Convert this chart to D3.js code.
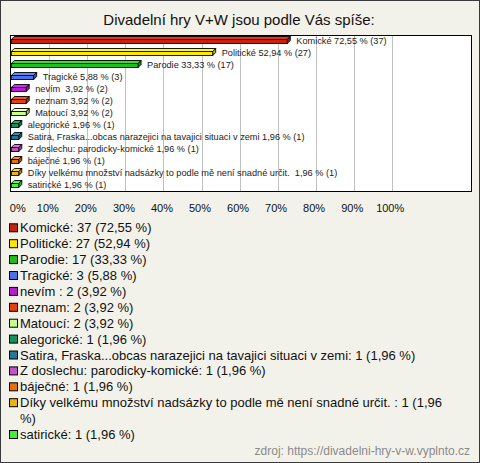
<!DOCTYPE html>
<html>
<head>
<meta charset="utf-8">
<script src="https://cdn.jsdelivr.net/npm/d3@7"></script>
<style>
  html, body { margin: 0; padding: 0; background: #fff; }
  svg { display: block; font-family: "Liberation Sans", Arial, sans-serif; }
</style>
</head>
<body>
<div id="chart-area"></div>
<script>
/***** Data *****/
const title = "Divadelní hry V+W jsou podle Vás spíše:";
const source = "zdroj: https://divadelni-hry-v-w.vyplnto.cz";
const categories = [
  "Komické", "Politické", "Parodie", "Tragické", "nevím ", "neznam", "Matoucí",
  "alegorické", "Satira, Fraska...obcas narazejici na tavajici situaci v zemi",
  "Z doslechu: parodicky-komické", "báječné",
  "Díky velkému množství nadsázky to podle mě není snadné určit. ", "satirické"
];
const counts   = [37, 27, 17, 3, 2, 2, 2, 1, 1, 1, 1, 1, 1];
const percents = [72.55, 52.94, 33.33, 5.88, 3.92, 3.92, 3.92, 1.96, 1.96, 1.96, 1.96, 1.96, 1.96];
const colors   = ["#c4240c", "#ffe800", "#1ebe1e", "#4a72e8", "#b41ccc", "#e2400e", "#c8ff8c",
                  "#16905c", "#1e7896", "#c454c4", "#e4700e", "#e8b412", "#44ee3c"];
const xTicks   = [0, 10, 20, 30, 40, 50, 60, 70, 80, 90, 100];

const data = categories.map((c, i) => ({ name: c, count: counts[i], pct: percents[i], color: colors[i] }));
const fmtPct = v => d3.format(".2f")(v).replace(".", ",");

/***** Layout *****/
const W = 480, H = 463;
const plot = { left: 10, right: 471, top: 35, bottom: 191 };
const depth = 3;

const svg = d3.select("#chart-area").append("svg")
  .attr("width", W).attr("height", H);

svg.append("rect")
  .attr("x", 0.5).attr("y", 0.5).attr("width", W - 1).attr("height", H - 1)
  .attr("fill", "#f3f2ea").attr("stroke", "#3a3a3a");

svg.append("text")
  .attr("x", 239).attr("y", 25).attr("text-anchor", "middle")
  .attr("font-size", 15).attr("fill", "#111").text(title);

svg.append("rect")
  .attr("x", plot.left + 0.5).attr("y", plot.top + 0.5)
  .attr("width", plot.right - plot.left).attr("height", plot.bottom - plot.top)
  .attr("fill", "#fff").attr("stroke", "#000");

/***** Scales *****/
const x = d3.scaleLinear().domain([0, 100]).range([11.3, 391.7]);
const y = d3.scaleBand().domain(categories).range([plot.top, plot.bottom]);

// grid
svg.append("g").selectAll("line")
  .data(xTicks.filter(t => t > 0))
  .join("line")
    .attr("x1", d => Math.round(x(d)) + 0.5).attr("x2", d => Math.round(x(d)) + 0.5)
    .attr("y1", plot.top + 1).attr("y2", plot.bottom)
    .attr("stroke", "#c0c0c0");

// axis labels
const gx = svg.append("g")
  .attr("transform", `translate(0,${plot.bottom})`)
  .call(d3.axisBottom(x).tickValues(xTicks).tickSize(0).tickPadding(13).tickFormat(d => d + "%"));
gx.select(".domain").remove();
gx.selectAll("text")
  .attr("font-family", "Liberation Sans, Arial, sans-serif")
  .attr("font-size", 11).attr("fill", "#111")
  .attr("dx", d => d === 0 ? 6 : -2);

/***** Bars (pseudo 3D) *****/
const bars = svg.append("g").selectAll("g").data(data).join("g");
const cy = d => y(d.name) + y.bandwidth() / 2;

bars.append("path") // top face
  .attr("d", d => {
    const x0 = x(0), x1 = x(d.pct), t = cy(d) - 1.5;
    return `M${x0},${t}L${x0 + depth},${t - depth}L${x1 + depth},${t - depth}L${x1},${t}Z`;
  })
  .attr("fill", d => d3.color(d.color).brighter(0.6)).attr("stroke", "#000").attr("stroke-width", 0.9);

bars.append("path") // side face
  .attr("d", d => {
    const x1 = x(d.pct), t = cy(d) - 1.5;
    return `M${x1},${t}L${x1 + depth},${t - depth}L${x1 + depth},${t - depth + 4}L${x1},${t + 4}Z`;
  })
  .attr("fill", d => d3.color(d.color).darker(0.7)).attr("stroke", "#000").attr("stroke-width", 0.9);

bars.append("rect") // front face
  .attr("x", x(0)).attr("y", d => cy(d) - 1.5)
  .attr("width", d => x(d.pct) - x(0)).attr("height", 4)
  .attr("fill", d => d.color).attr("stroke", "#000").attr("stroke-width", 0.9);

bars.append("text")
  .attr("x", d => x(d.pct) + 9).attr("y", d => cy(d) + 3)
  .attr("font-size", 9.2).attr("fill", "#222")
  .attr("xml:space", "preserve")
  .text(d => `${d.name} ${fmtPct(d.pct)} % (${d.count})`);

/***** Legend *****/
const lineH = 15.9, maxRight = 455;
let ly = 223.3;
const legend = svg.append("g");
data.forEach(d => {
  const g = legend.append("g");
  g.append("rect")
    .attr("x", 9.5).attr("y", ly + 0.5).attr("width", 8).attr("height", 8)
    .attr("fill", d.color).attr("stroke", "#000");
  const txt = g.append("text")
    .attr("x", 20).attr("y", ly + 9)
    .attr("font-size", 13).attr("fill", "#111")
    .attr("xml:space", "preserve");
  const words = `${d.name}: ${d.count} (${fmtPct(d.pct)} %)`.split(" ");
  let line = [], ts = txt.append("tspan").attr("x", 20), lines = 1;
  words.forEach(w => {
    line.push(w);
    ts.text(line.join(" "));
    if (20 + ts.node().getComputedTextLength() > maxRight && line.length > 1) {
      line.pop();
      ts.text(line.join(" "));
      line = [w];
      ts = txt.append("tspan").attr("x", 20).attr("dy", lineH).text(w);
      lines++;
    }
  });
  ly += lineH * lines;
});

svg.append("text")
  .attr("x", 470).attr("y", 455).attr("text-anchor", "end")
  .attr("font-size", 12).attr("fill", "#8a8a8a").text(source);
</script>
</body>
</html>
